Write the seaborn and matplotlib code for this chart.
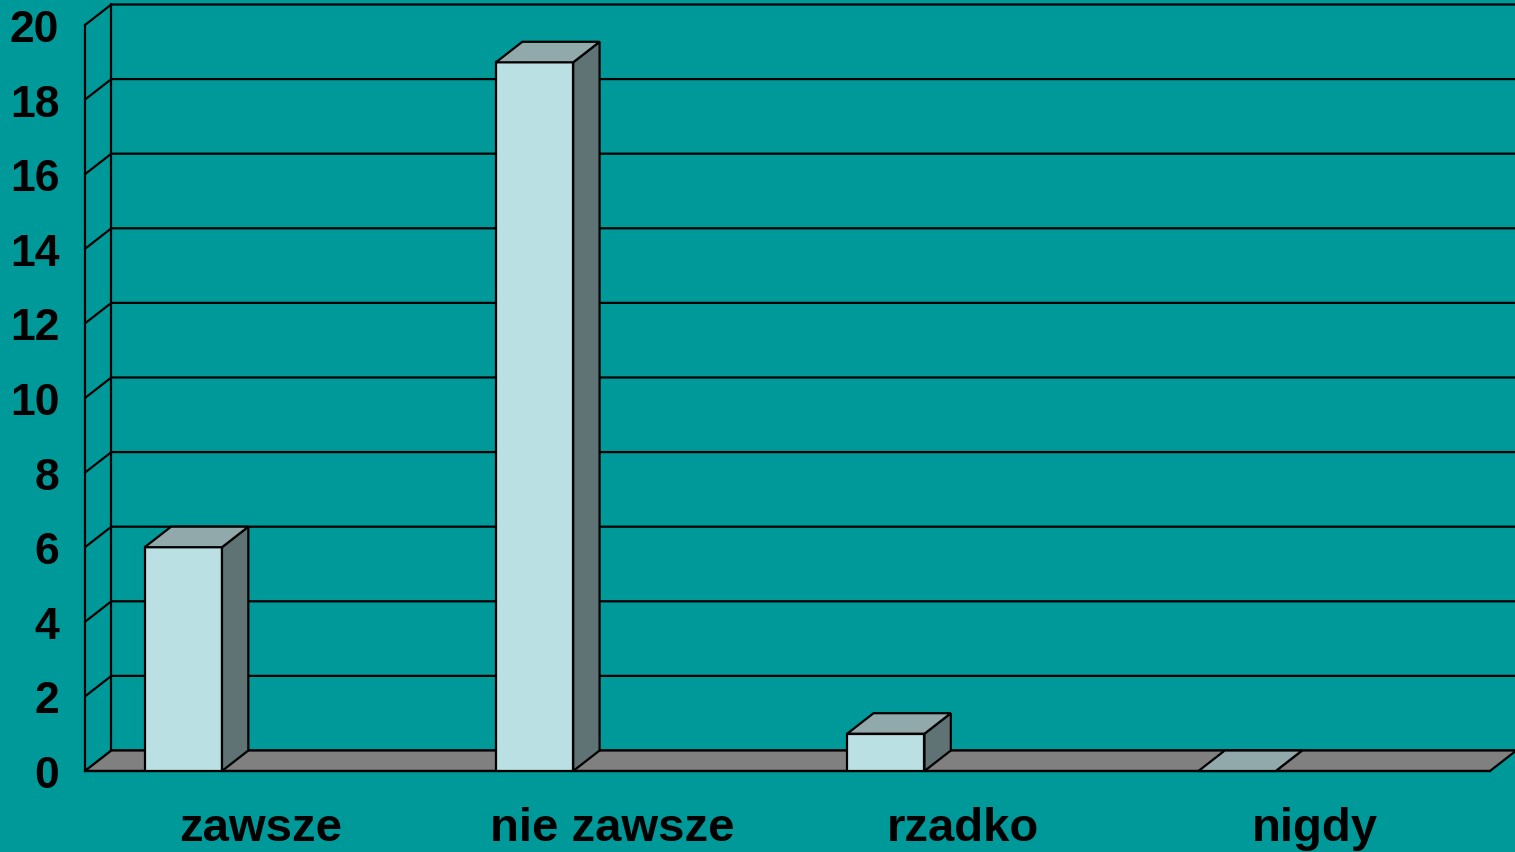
import numpy as np
import matplotlib.pyplot as plt
from matplotlib.patches import Polygon
import seaborn as sns

# data
categories = ['zawsze', 'nie zawsze', 'rzadko', 'nigdy']
counts = [6, 19, 1, 0]
y_ticks = [0, 2, 4, 6, 8, 10, 12, 14, 16, 18, 20]

# colours
BG = '#009999'
FRONT = '#BBE0E3'
TOP = '#91A9AA'
SIDE = '#5F7375'
FLOOR = '#808080'

BAR_W = 0.22     # bar width as fraction of a category
SHIFT = 0.22     # bars sit left of the category centre
DX, DY = 0.075, 0.55   # fake 3D depth in data units
LW = 1.6

sns.set_style('white')
plt.rcParams['font.family'] = ['Liberation Sans', 'DejaVu Sans']
plt.rcParams['text.color'] = 'black'

fig = plt.figure(figsize=(15.15, 8.53), dpi=100, facecolor=BG)
ax = fig.add_axes([85 / 1515, 81 / 853, 1405 / 1515, 746 / 853])
ax.set_facecolor('none')

sns.barplot(x=categories, y=counts, color=FRONT, saturation=1, width=BAR_W,
            edgecolor='black', linewidth=LW, errorbar=None, ax=ax, zorder=5)
bars = list(ax.patches)

x0, x1 = -0.5 + SHIFT, len(categories) - 0.5 + SHIFT
ax.set_xlim(x0, x1)
ax.set_ylim(0, 20)

# ── walls and floor ─────────────────────────────────────────────────
for k in y_ticks:
    ax.plot([x0, x0 + DX, x1 + DX], [k, k + DY, k + DY],
            color='black', lw=LW, clip_on=False, zorder=2)
ax.plot([x0 + DX, x0 + DX], [DY, y_ticks[-1] + DY],
        color='black', lw=LW, clip_on=False, zorder=2)
ax.add_patch(Polygon([(x0, 0), (x1, 0), (x1 + DX, DY), (x0 + DX, DY)],
                     closed=True, fc=FLOOR, ec='black', lw=LW,
                     clip_on=False, zorder=3))

# ── 3D faces of the columns ─────────────────────────────────────────
for p in bars:
    x, w, h = p.get_x(), p.get_width(), p.get_height()
    side = [(x + w, 0), (x + w + DX, DY), (x + w + DX, h + DY), (x + w, h)]
    top = [(x, h), (x + w, h), (x + w + DX, h + DY), (x + DX, h + DY)]
    ax.add_patch(Polygon(side, closed=True, fc=SIDE, ec='black', lw=LW,
                         clip_on=False, zorder=5))
    ax.add_patch(Polygon(top, closed=True, fc=TOP, ec='black', lw=LW,
                         clip_on=False, zorder=5))

# ── axes and labels ─────────────────────────────────────────────────
for side_name in ['top', 'right']:
    ax.spines[side_name].set_visible(False)
for side_name in ['left', 'bottom']:
    ax.spines[side_name].set_color('black')
    ax.spines[side_name].set_linewidth(LW)
    ax.spines[side_name].set_zorder(4)

ax.set_yticks(y_ticks)
ax.set_yticklabels([str(t) for t in y_ticks], fontsize=32, fontweight='bold')
ax.tick_params(axis='y', length=8.5, width=LW, color='black',
               labelcolor='black', pad=10)

ax.set_xticks(np.arange(len(categories)) + SHIFT)
ax.set_xticklabels(categories, fontsize=34, fontweight='bold')
ax.set_xticks(np.arange(len(categories) + 1) - 0.5 + SHIFT, minor=True)
ax.tick_params(axis='x', which='major', length=0, pad=25, labelcolor='black')
ax.tick_params(axis='x', which='minor', length=9, width=LW, color='black')
ax.set_xlabel('')
ax.set_ylabel('')

fig.savefig('out.png', dpi=100, facecolor=BG)
